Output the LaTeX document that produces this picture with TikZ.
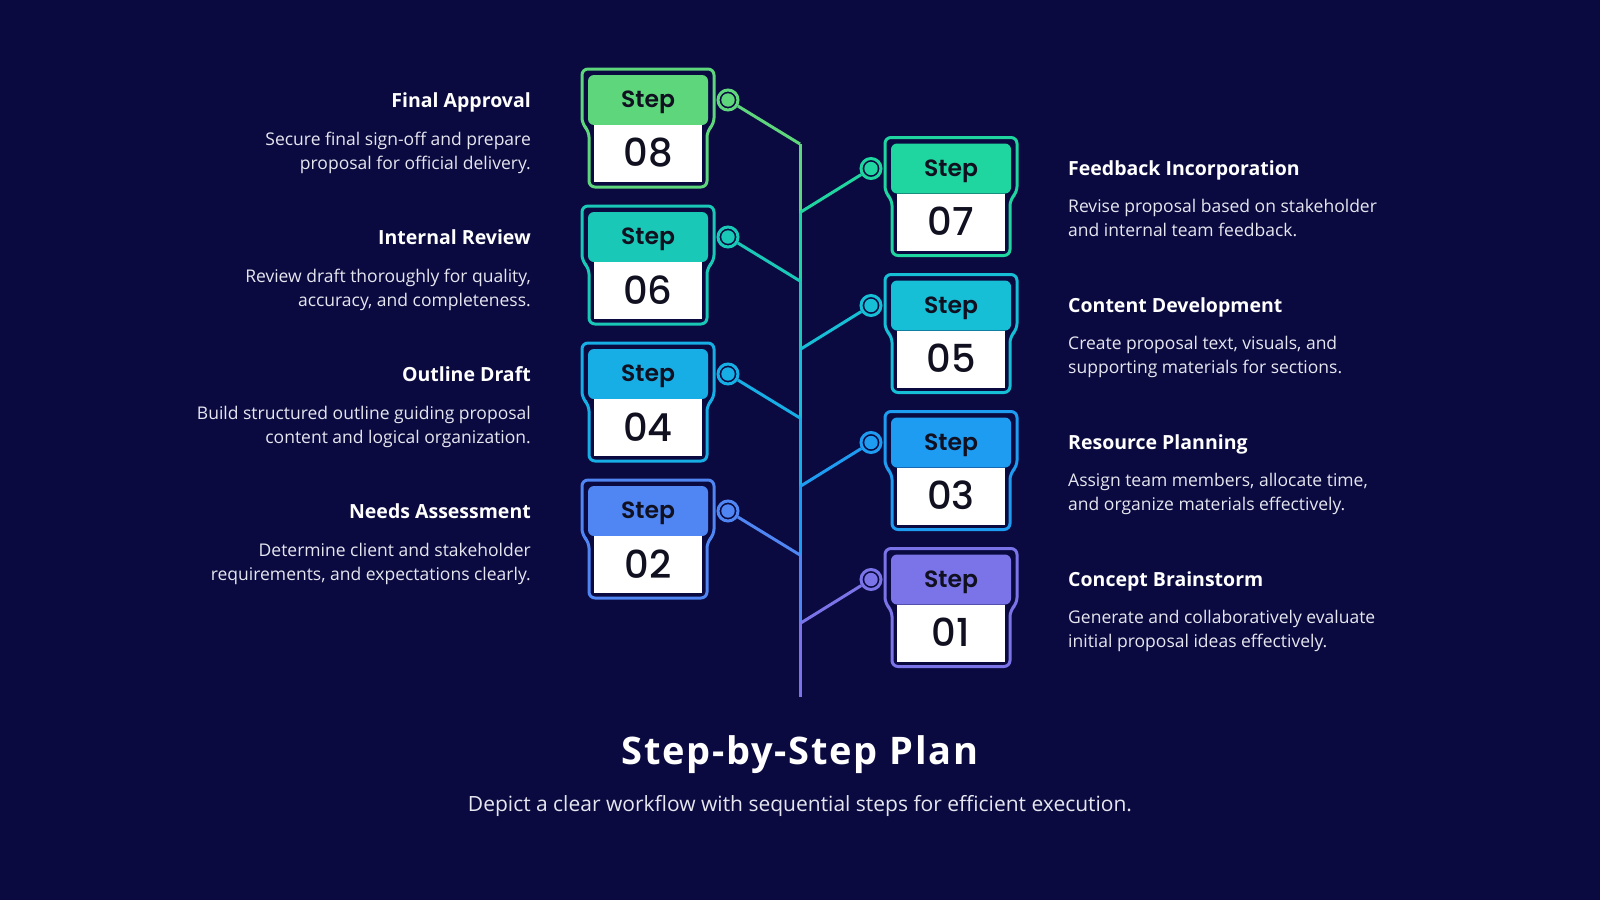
\documentclass[tikz,border=0pt]{standalone}
\usepackage{fontspec}
\setmainfont{Open Sans}
\newfontfamily\popsemi{Poppins SemiBold}
\newfontfamily\popmed{Poppins Medium}
\definecolor{bgc}{HTML}{0A0A40}
\definecolor{cA}{HTML}{5ED77C}
\definecolor{cB}{HTML}{1FD6A0}
\definecolor{cC}{HTML}{19C8B7}
\definecolor{cD}{HTML}{16BFD6}
\definecolor{cE}{HTML}{17AEE6}
\definecolor{cF}{HTML}{1E9CF2}
\definecolor{cG}{HTML}{4F86F3}
\definecolor{cH}{HTML}{7A74E8}
\definecolor{desc}{HTML}{E6E6F0}
\definecolor{ink}{HTML}{101020}
\tikzset{
  steplabel/.style={inner sep=0pt, text=ink, font=\popsemi\fontsize{23.5}{26}\selectfont},
  stepnum/.style={inner sep=0pt, text=ink, font=\popmed\fontsize{38.5}{40}\selectfont},
  dotring/.style={circle, minimum size=20pt, inner sep=0pt, line width=3pt, fill=bgc},
  ttl/.style={inner sep=0pt, text=white, font=\fontsize{19.5}{22}\selectfont\bfseries},
  dsc/.style={inner sep=0pt, text=desc, font=\fontsize{17.5}{20}\selectfont},
  link/.style={line width=3pt},
}
\newcommand\StepBox[5]{%
\begin{scope}[shift={(#2,#3)}]
 \fill[#4, rounded corners=6pt] (-60,-25) rectangle (60,25);
 \fill[white] (-54,25) rectangle (54,82);
 \draw[#4, line width=3pt, rounded corners=6pt] (-66,24) -- (-66,-31) -- (66,-31) -- (66,24) -- (59,31) -- (59,87) -- (-59,87) -- (-59,31) -- cycle;
 \node[steplabel] (#1h) at (0,2.5) {Step};
 \node[stepnum] (#1n) at (0,53) {#5};
\end{scope}}
\newcommand\StepDot[4]{%
 \node[dotring, draw=#4] (#1) at (#2,#3) {};
 \fill[#4] (#1.center) circle (6.7pt);}
\newcommand\LeftText[5]{%
 \node[ttl, anchor=base east] (#1t) at (531,#2+7) {#3};
 \node[dsc, anchor=base east] (#1a) at (531,#2+45) {#4};
 \node[dsc, anchor=base east] (#1b) at (531,#2+69) {#5};}
\newcommand\RightText[5]{%
 \node[ttl, anchor=base west] (#1t) at (1068,#2+7) {#3};
 \node[dsc, anchor=base west] (#1a) at (1068,#2+44) {#4};
 \node[dsc, anchor=base west] (#1b) at (1068,#2+68) {#5};}
\begin{document}
\begin{tikzpicture}[x=1pt,y=-1pt]
\fill[bgc] (0,0) rectangle (1600,900);
\useasboundingbox (0,0) rectangle (1600,900);
% trunk junctions
\coordinate (j8) at (800,144);
\coordinate (j7) at (800,212.5);
\coordinate (j6) at (800,281);
\coordinate (j5) at (800,349.5);
\coordinate (j4) at (800,418);
\coordinate (j3) at (800,486.5);
\coordinate (j2) at (800,555);
\coordinate (j1) at (800,623.5);
\coordinate (tend) at (800,697);
\draw[link, cA] (j8) -- (j7);
\draw[link, cB] (j7) -- (j6);
\draw[link, cC] (j6) -- (j5);
\draw[link, cD] (j5) -- (j4);
\draw[link, cE] (j4) -- (j3);
\draw[link, cF] (j3) -- (j2);
\draw[link, cG] (j2) -- (j1);
\draw[link, cH] (j1) -- (tend);
% dots
\StepDot{d8}{728}{100}{cA}
\StepDot{d6}{728}{237}{cC}
\StepDot{d4}{728}{374}{cE}
\StepDot{d2}{728}{511}{cG}
\StepDot{d7}{871}{168.5}{cB}
\StepDot{d5}{871}{305.5}{cD}
\StepDot{d3}{871}{442.5}{cF}
\StepDot{d1}{871}{579.5}{cH}
\draw[link, cA] (d8) -- (j8);
\draw[link, cC] (d6) -- (j6);
\draw[link, cE] (d4) -- (j4);
\draw[link, cG] (d2) -- (j2);
\draw[link, cB] (d7) -- (j7);
\draw[link, cD] (d5) -- (j5);
\draw[link, cF] (d3) -- (j3);
\draw[link, cH] (d1) -- (j1);
% boxes
\StepBox{s8}{648}{100}{cA}{08}
\StepBox{s6}{648}{237}{cC}{06}
\StepBox{s4}{648}{374}{cE}{04}
\StepBox{s2}{648}{511}{cG}{02}
\StepBox{s7}{951}{168.5}{cB}{07}
\StepBox{s5}{951}{305.5}{cD}{05}
\StepBox{s3}{951}{442.5}{cF}{03}
\StepBox{s1}{951}{579.5}{cH}{01}
% texts
\LeftText{t8}{100}{Final Approval}{Secure final sign-off and prepare}{proposal for official delivery.}
\LeftText{t6}{237}{Internal Review}{Review draft thoroughly for quality,}{accuracy, and completeness.}
\LeftText{t4}{374}{Outline Draft}{Build structured outline guiding proposal}{content and logical organization.}
\LeftText{t2}{511}{Needs Assessment}{Determine client and stakeholder}{requirements, and expectations clearly.}
\RightText{t7}{168.5}{Feedback Incorporation}{Revise proposal based on stakeholder}{and internal team feedback.}
\RightText{t5}{305.5}{Content Development}{Create proposal text, visuals, and}{supporting materials for sections.}
\RightText{t3}{442.5}{Resource Planning}{Assign team members, allocate time,}{and organize materials effectively.}
\RightText{t1}{579.5}{Concept Brainstorm}{Generate and collaboratively evaluate}{initial proposal ideas effectively.}
% title
\node[inner sep=0pt, text=white, font=\fontsize{38}{40}\selectfont\bfseries\addfontfeature{LetterSpace=4.5}, anchor=base] (title) at (800,764) {Step-by-Step Plan};
\node[inner sep=0pt, text=desc, font=\fontsize{21}{24}\selectfont, anchor=base] (subtitle) at (800,811) {Depict a clear workflow with sequential steps for efficient execution.};
\end{tikzpicture}
\end{document}
